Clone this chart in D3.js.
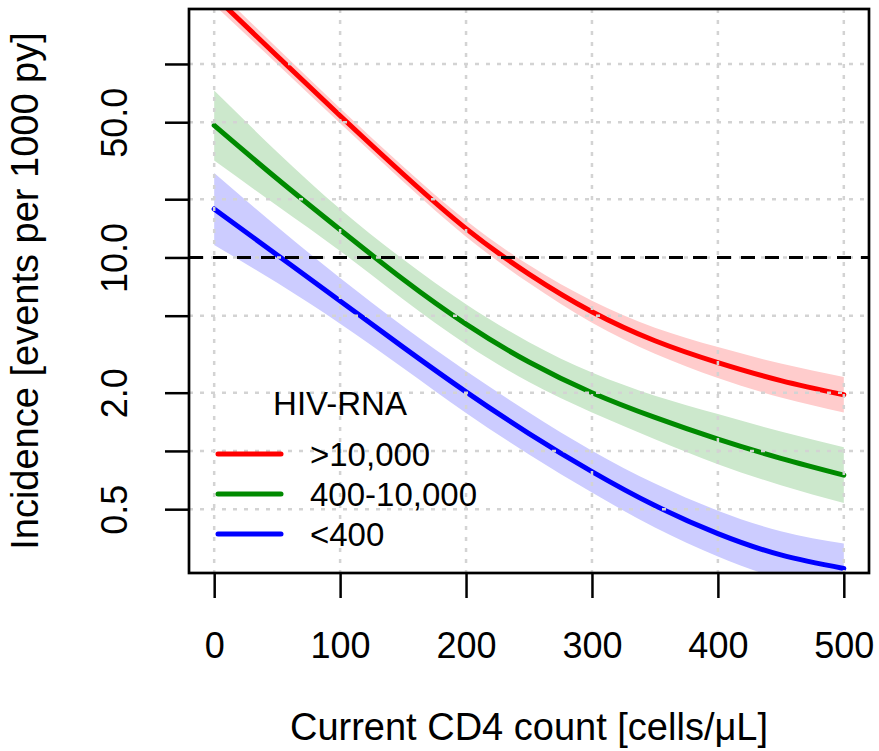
<!DOCTYPE html>
<html>
<head>
<meta charset="utf-8">
<script src="https://cdn.jsdelivr.net/npm/d3@7"></script>
<style>
  html, body { margin: 0; padding: 0; background: #ffffff; }
  svg { display: block; }
  text { font-family: "Liberation Sans", Arial, Helvetica, sans-serif; fill: #000; }
</style>
</head>
<body>
<svg id="chart" width="879" height="751"></svg>
<script>
// ---- data ----
const cd4 = [0, 50, 100, 150, 200, 250, 300, 350, 400, 450, 500];

const highMid   = [225, 110, 54.0, 27.0, 14.1, 8.20, 5.24, 3.71, 2.86, 2.31, 1.95];
const highLow   = [202, 100, 49.4, 24.7, 12.8, 7.37, 4.60, 3.18, 2.38, 1.89, 1.58];
const highHigh  = [250, 121, 59.0, 29.5, 15.5, 9.13, 5.97, 4.33, 3.44, 2.83, 2.41];

const midMid    = [48.1, 25.5, 13.9, 7.71, 4.52, 2.88, 2.00, 1.49, 1.15, 0.916, 0.750];
const midLow    = [31.7, 18.5, 10.8, 6.08, 3.56, 2.27, 1.58, 1.15, 0.854, 0.665, 0.538];
const midHigh   = [72.9, 35.1, 17.8, 9.78, 5.73, 3.65, 2.54, 1.93, 1.55, 1.26, 1.045];

const lowMid    = [17.8, 10.3, 5.96, 3.44, 2.02, 1.23, 0.782, 0.522, 0.374, 0.290, 0.247];
const lowLow    = [11.6, 7.39, 4.54, 2.68, 1.57, 0.959, 0.609, 0.402, 0.285, 0.218, 0.184];
const lowHigh   = [27.3, 14.4, 7.83, 4.41, 2.59, 1.58, 1.003, 0.678, 0.491, 0.385, 0.332];

const seriesNames = [">10,000", "400-10,000", "<400"];
const legendTitle = "HIV-RNA";
const xTicks = [0, 100, 200, 300, 400, 500];
const yTicks = [0.5, 1, 2, 5, 10, 20, 50, 100];
const yLabelled = [0.5, 2, 10, 50];
const refLine = 10;
const xTitle = "Current CD4 count [cells/\u03BCL]";
const yTitle = "Incidence [events per 1000 py]";

// ---- layout ----
const L = 189, R = 869, T = 9, B = 573;
const svg = d3.select("#chart");

const x = d3.scaleLinear().domain([-20, 520]).range([L, R]);
const y = d3.scaleLog().domain([Math.pow(10, -0.6309), Math.pow(10, 2.2841)]).range([B, T]);

const colors = ["#FF0000", "#008A00", "#0000FF"];
const bandColors = ["#FFCCCC", "#CCE8CC", "#CCCCFF"];

const series = [
  { mid: highMid, lo: highLow, hi: highHigh },
  { mid: midMid, lo: midLow, hi: midHigh },
  { mid: lowMid, lo: lowLow, hi: lowHigh }
];

svg.append("defs").append("clipPath").attr("id", "plotClip")
  .append("rect").attr("x", L).attr("y", T).attr("width", R - L).attr("height", B - T);

const plot = svg.append("g").attr("clip-path", "url(#plotClip)");

// bands
const area = d3.area()
  .x((d, i) => x(cd4[i]))
  .y0(d => y(d[0]))
  .y1(d => y(d[1]))
  .curve(d3.curveNatural);

series.forEach((s, k) => {
  const pts = cd4.map((c, i) => [s.lo[i], s.hi[i]]);
  plot.append("path").datum(pts)
    .attr("d", area)
    .attr("fill", bandColors[k])
    .attr("stroke", "none");
});

// lines
const line = d3.line()
  .x((d, i) => x(cd4[i]))
  .y(d => y(d))
  .curve(d3.curveNatural);

series.forEach((s, k) => {
  plot.append("path").datum(s.mid)
    .attr("d", line)
    .attr("fill", "none")
    .attr("stroke", colors[k])
    .attr("stroke-width", 5)
    .attr("stroke-linecap", "round")
    .attr("stroke-linejoin", "round");
});

// grid
const grid = svg.append("g");
xTicks.forEach(t => {
  grid.append("line")
    .attr("x1", x(t)).attr("x2", x(t)).attr("y1", T).attr("y2", B)
    .attr("stroke", "#D3D3D3").attr("stroke-width", 2.5).attr("stroke-dasharray", "4,7");
});
yTicks.forEach(t => {
  grid.append("line")
    .attr("x1", L).attr("x2", R).attr("y1", y(t)).attr("y2", y(t))
    .attr("stroke", "#D3D3D3").attr("stroke-width", 2.5).attr("stroke-dasharray", "4,7");
});

// reference line
svg.append("line")
  .attr("x1", L).attr("x2", R).attr("y1", y(refLine)).attr("y2", y(refLine))
  .attr("stroke", "#000").attr("stroke-width", 3).attr("stroke-dasharray", "14,10");

// axes
const xAxis = svg.append("g").attr("transform", `translate(0,${B})`)
  .call(d3.axisBottom(x).tickValues(xTicks).tickSize(25).tickSizeOuter(0).tickFormat(d3.format("d")));
xAxis.select(".domain").remove();
xAxis.selectAll(".tick line").attr("stroke", "#000").attr("stroke-width", 2.5);
xAxis.selectAll(".tick text")
  .attr("y", 85).attr("dy", null)
  .style("font-size", "36px")
  .style("font-family", "'Liberation Sans', Arial, sans-serif")
  .attr("fill", "#000");

const yAxis = svg.append("g").attr("transform", `translate(${L},0)`)
  .call(d3.axisLeft(y).tickValues(yTicks).tickSize(24).tickSizeOuter(0)
    .tickFormat(d => yLabelled.includes(d) ? d3.format(".1f")(d) : ""));
yAxis.select(".domain").remove();
yAxis.selectAll(".tick line").attr("stroke", "#000").attr("stroke-width", 2.5);
yAxis.selectAll(".tick text")
  .attr("x", 0).attr("dy", null).attr("y", -62)
  .attr("transform", "rotate(-90)")
  .attr("text-anchor", "middle")
  .style("font-size", "36px")
  .style("font-family", "'Liberation Sans', Arial, sans-serif")
  .attr("fill", "#000");

// box
svg.append("rect")
  .attr("x", L).attr("y", T).attr("width", R - L).attr("height", B - T)
  .attr("fill", "none").attr("stroke", "#000").attr("stroke-width", 2.7);

// titles
svg.append("text")
  .attr("x", (L + R) / 2).attr("y", 740)
  .attr("text-anchor", "middle")
  .style("font-size", "38px")
  .text(xTitle);

svg.append("text")
  .attr("transform", `translate(38,${(T + B) / 2}) rotate(-90)`)
  .attr("text-anchor", "middle")
  .style("font-size", "38px")
  .text(yTitle);

// legend
const lg = svg.append("g");
lg.append("text")
  .attr("x", 340).attr("y", 415)
  .attr("text-anchor", "middle")
  .style("font-size", "33px")
  .text(legendTitle);
seriesNames.forEach((name, i) => {
  const yy = 454 + i * 40;
  lg.append("line")
    .attr("x1", 218).attr("x2", 281).attr("y1", yy).attr("y2", yy)
    .attr("stroke", colors[i]).attr("stroke-width", 5).attr("stroke-linecap", "round");
  lg.append("text")
    .attr("x", 310).attr("y", yy + 12)
    .style("font-size", "33px")
    .text(name);
});
</script>
</body>
</html>
